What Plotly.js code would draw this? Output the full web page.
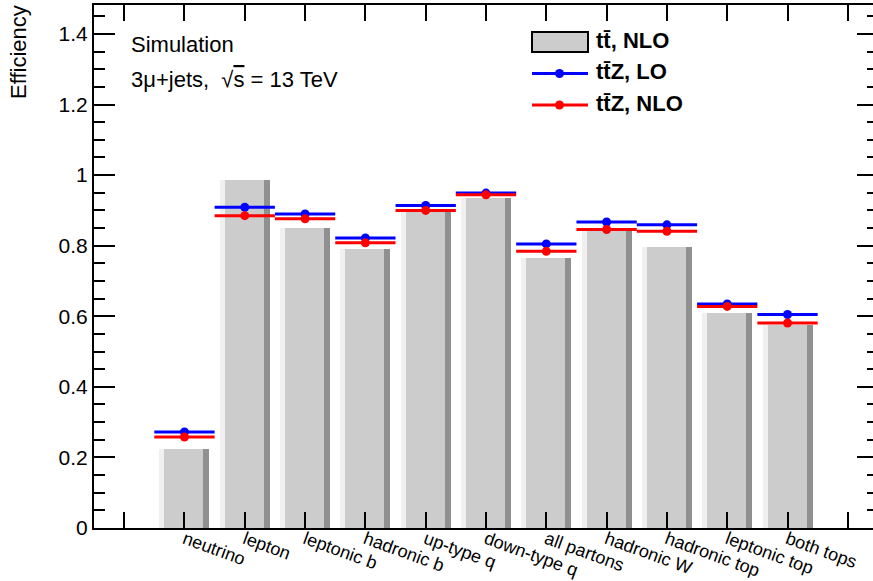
<!DOCTYPE html>
<html>
<head>
<meta charset="utf-8">
<script src="https://cdn.plot.ly/plotly-3.0.1.min.js"></script>
<style>
  html, body { margin: 0; padding: 0; overflow: hidden; background: #fff; }
  #chart { width: 880px; height: 581px; }
</style>
</head>
<body>
<div id="chart"></div>
<script>
// Parton-matching efficiencies per object category
const categories = ["neutrino", "lepton", "leptonic b", "hadronic b", "up-type q",
  "down-type q", "all partons", "hadronic W", "hadronic top", "leptonic top", "both tops"];
const ttbarNLO = [0.225, 0.987, 0.850, 0.790, 0.902, 0.935, 0.765, 0.842, 0.797, 0.609, 0.576];
const ttZLO    = [0.272, 0.909, 0.890, 0.822, 0.914, 0.949, 0.805, 0.867, 0.859, 0.635, 0.605];
const ttZNLO   = [0.258, 0.885, 0.876, 0.808, 0.900, 0.944, 0.784, 0.846, 0.841, 0.628, 0.581];
const seriesNames = ["t t\u0304, NLO", "t t\u0304Z, LO", "t t\u0304Z, NLO"];

// one empty bin on each side of the categories
const xPos = categories.map((_, i) => i + 1);
const tickVals = [0].concat(xPos, [categories.length + 1]);
const tickText = [""].concat(categories, [""]);

const font = "Liberation Sans, Arial, Helvetica, sans-serif";

// shaded bar: light left edge, grey body, dark right edge
const barParts = [
  { color: "#f0f0f0", offset: -0.415, width: 0.83 },
  { color: "#cccccc", offset: -0.332, width: 0.647 },
  { color: "#909090", offset: 0.315, width: 0.1 }
];
const traces = barParts.map(p => ({
  type: "bar", x: xPos, y: ttbarNLO,
  offset: p.offset, width: p.width,
  marker: { color: p.color, line: { width: 0 } },
  hoverinfo: "y", showlegend: false
}));

function points(vals, color) {
  return {
    type: "scatter", mode: "markers", x: xPos, y: vals,
    marker: { color: color, size: 9 },
    error_x: { type: "constant", value: 0.5, width: 0, thickness: 3, color: color },
    showlegend: false
  };
}
traces.push(points(ttZLO, "#0000ff"));
traces.push(points(ttZNLO, "#ff0000"));

// frame geometry in pixels and helpers for the legend (unit square over the plot area)
const W = 784, H = 523, L = 94, T = 5;
const px = x => (x - L) / W;
const py = y => (T + H - y) / H;

const legendY = [42, 73.5, 105];
traces.push({
  type: "scatter", mode: "text", xaxis: "x2", yaxis: "y2",
  x: legendY.map(() => px(596)), y: legendY.map(py),
  text: seriesNames.map(s => "<b>" + s.replace(" ", "") + "</b>"),
  textposition: "middle right",
  textfont: { family: font, size: 22, color: "#000" },
  cliponaxis: false, hoverinfo: "skip", showlegend: false
});

const shapes = [
  { type: "rect", xref: "paper", yref: "paper", x0: px(532), x1: px(588), y0: py(52), y1: py(32),
    fillcolor: "#cccccc", line: { color: "#000", width: 2 } },
  { type: "line", xref: "paper", yref: "paper", x0: px(532), x1: px(588), y0: py(73.5), y1: py(73.5),
    line: { color: "#0000ff", width: 3 } },
  { type: "line", xref: "paper", yref: "paper", x0: px(532), x1: px(588), y0: py(105), y1: py(105),
    line: { color: "#ff0000", width: 3 } },
  { type: "circle", xref: "paper", yref: "paper", xsizemode: "pixel", ysizemode: "pixel",
    xanchor: px(559.5), yanchor: py(73.5), x0: -4.5, x1: 4.5, y0: -4.5, y1: 4.5,
    fillcolor: "#0000ff", line: { width: 0 } },
  { type: "circle", xref: "paper", yref: "paper", xsizemode: "pixel", ysizemode: "pixel",
    xanchor: px(559.5), yanchor: py(105), x0: -4.5, x1: 4.5, y0: -4.5, y1: 4.5,
    fillcolor: "#ff0000", line: { width: 0 } }
];

const annotations = [
  { xref: "paper", yref: "paper", x: px(129), y: py(45), xanchor: "left", yanchor: "middle",
    showarrow: false, text: "Simulation", font: { family: font, size: 22, color: "#000" } },
  { xref: "paper", yref: "paper", x: px(129), y: py(80), xanchor: "left", yanchor: "middle",
    showarrow: false,
    text: "3\u03bc+jets,\u00a0 \u221a<span style='text-decoration:overline'>s</span> = 13 TeV",
    font: { family: font, size: 22, color: "#000" } },
  { xref: "paper", yref: "paper", x: px(18), y: py(3), xanchor: "center", yanchor: "top",
    showarrow: false, textangle: -90, text: "Efficiency",
    font: { family: font, size: 22, color: "#000" } }
];

const layout = {
  width: 880, height: 581,
  margin: { l: L, r: 880 - L - W, t: T, b: 581 - T - H },
  paper_bgcolor: "#fff", plot_bgcolor: "#fff",
  barmode: "overlay", bargap: 0,
  showlegend: false,
  font: { family: font, size: 18, color: "#000" },
  xaxis: {
    range: [-0.5, categories.length + 1.5],
    tickmode: "array", tickvals: tickVals, ticktext: tickText,
    tickangle: 20, tickfont: { family: font, size: 18 },
    ticklabelstandoff: -8,
    ticks: "inside", ticklen: 16, tickwidth: 2, tickcolor: "#000",
    showline: true, linewidth: 2, linecolor: "#000", mirror: "ticks",
    showgrid: false, zeroline: false
  },
  yaxis: {
    range: [0, 1.482],
    dtick: 0.2, tick0: 0,
    ticks: "inside", ticklen: 21, tickwidth: 2, tickcolor: "#000",
    minor: { dtick: 0.05, ticks: "inside", ticklen: 11, tickwidth: 2, tickcolor: "#000", showgrid: false },
    tickfont: { family: font, size: 21 },
    showline: true, linewidth: 2, linecolor: "#000", mirror: "ticks",
    showgrid: false, zeroline: false
  },
  xaxis2: { overlaying: "x", anchor: "y2", range: [0, 1], visible: false, fixedrange: true },
  yaxis2: { overlaying: "y", anchor: "x2", range: [0, 1], visible: false, fixedrange: true },
  shapes: shapes,
  annotations: annotations
};

Plotly.newPlot("chart", traces, layout, { displayModeBar: false, staticPlot: true });
</script>
</body>
</html>
